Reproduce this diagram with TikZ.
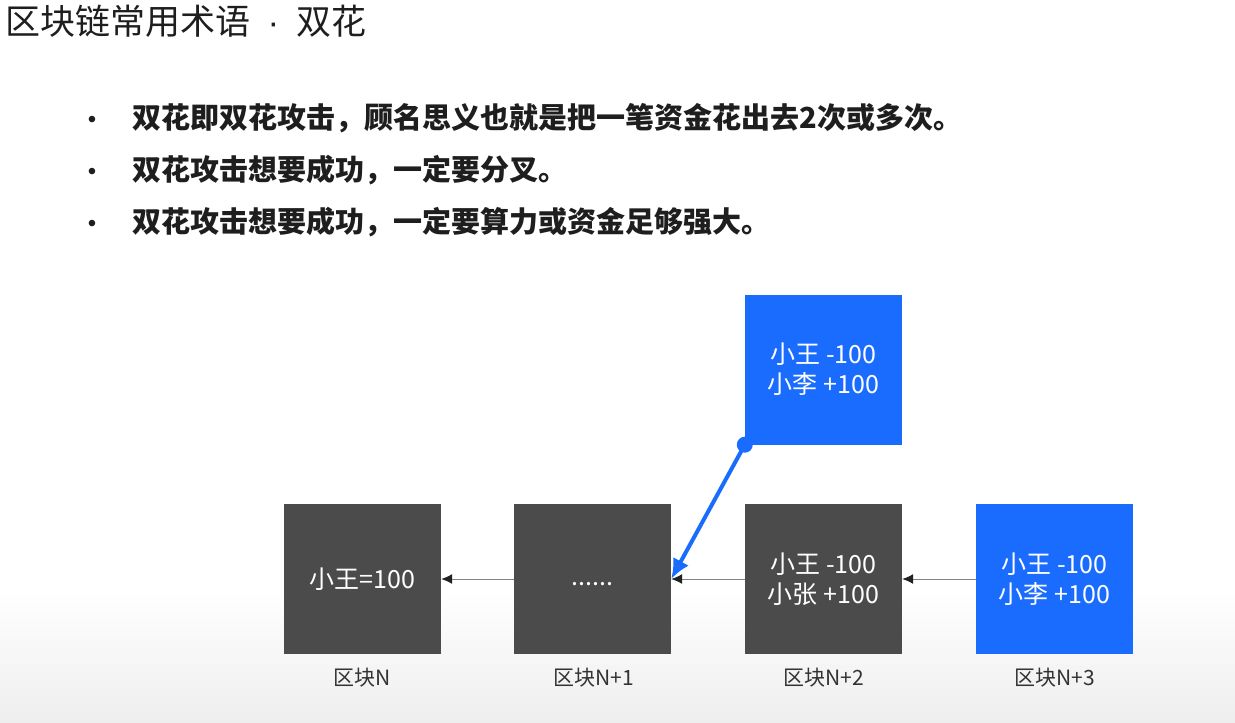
\documentclass[tikz,border=0pt]{standalone}
\usepackage{fontspec}
\setmainfont{Noto Sans CJK SC}
\newfontfamily\latinfont{Liberation Sans}
\usetikzlibrary{arrows.meta}
\definecolor{blockgray}{RGB}{75,75,75}
\definecolor{forkblue}{RGB}{26,108,255}
\definecolor{chainline}{RGB}{130,130,130}
\definecolor{tipdark}{RGB}{34,34,34}
\definecolor{textdark}{RGB}{30,30,30}
\definecolor{labelgray}{RGB}{51,51,51}
\definecolor{floorgray}{RGB}{238,238,238}

\begin{document}
\begin{tikzpicture}[x=1pt,y=-1pt,
    block/.style={rectangle,minimum width=157pt,minimum height=150pt,
      inner sep=0pt,fill=blockgray,text=white,align=center,
      font=\fontsize{25}{30}\selectfont},
    caption/.style={text=labelgray,font=\fontsize{21}{24}\selectfont},
    point/.style={anchor=west,text=textdark,
      font=\fontsize{29}{32}\selectfont\bfseries},
    bulletdot/.style={anchor=base,text=textdark,
      font=\latinfont\fontsize{24}{28}\selectfont},
    link/.style={draw=chainline,line width=1pt,
      -{Latex[length=11pt,width=10pt,color=tipdark]}},
    forklink/.style={draw=forkblue,line width=4pt,
      -{Latex[length=20pt,width=18pt]}}]
    \shade[top color=white,bottom color=floorgray] (0,590) rectangle (1235,723);
    \useasboundingbox (0,0) rectangle (1235,723);

    \node[anchor=west,text=textdark,font=\fontsize{35}{40}\selectfont]
      (title) at (2,21)
      {区块链常用术语\hspace{17pt}{\latinfont·}\hspace{17pt}双花};

    \node[bulletdot] (d1) at (92,127) {•};
    \node[bulletdot] (d2) at (92,179) {•};
    \node[bulletdot] (d3) at (92,231) {•};
    \node[point] (p1) at (129,118)
      {双花即双花攻击，顾名思义也就是把一笔资金花出去2次或多次。};
    \node[point] (p2) at (129,170) {双花攻击想要成功，一定要分叉。};
    \node[point] (p3) at (129,222) {双花攻击想要成功，一定要算力或资金足够强大。};

    \node[block] (bn) at (362.5,579) {小王=100};
    \node[block] (bn1) at (592.5,579) {\strut......};
    \node[block] (bn2) at (823.5,579) {小王 -100\\小张 +100};
    \node[block,fill=forkblue] (bn3) at (1054.5,579) {小王 -100\\小李 +100};
    \node[block,fill=forkblue] (fork) at (823.5,369.5) {小王 -100\\小李 +100};

    \node[caption] (ln) at (362.5,678) {区块N};
    \node[caption] (ln1) at (594,678) {区块N+1};
    \node[caption] (ln2) at (823.5,678) {区块N+2};
    \node[caption] (ln3) at (1055,678) {区块N+3};

    \draw[link] (bn1.west) -- (bn.east);
    \draw[link] (bn2.west) -- (bn1.east);
    \draw[link] (bn3.west) -- (bn2.east);
    \draw[forklink] (fork.south west) -- (bn1.east);
    \fill[forkblue] (fork.south west) circle (8);
  \end{tikzpicture}
\end{document}
